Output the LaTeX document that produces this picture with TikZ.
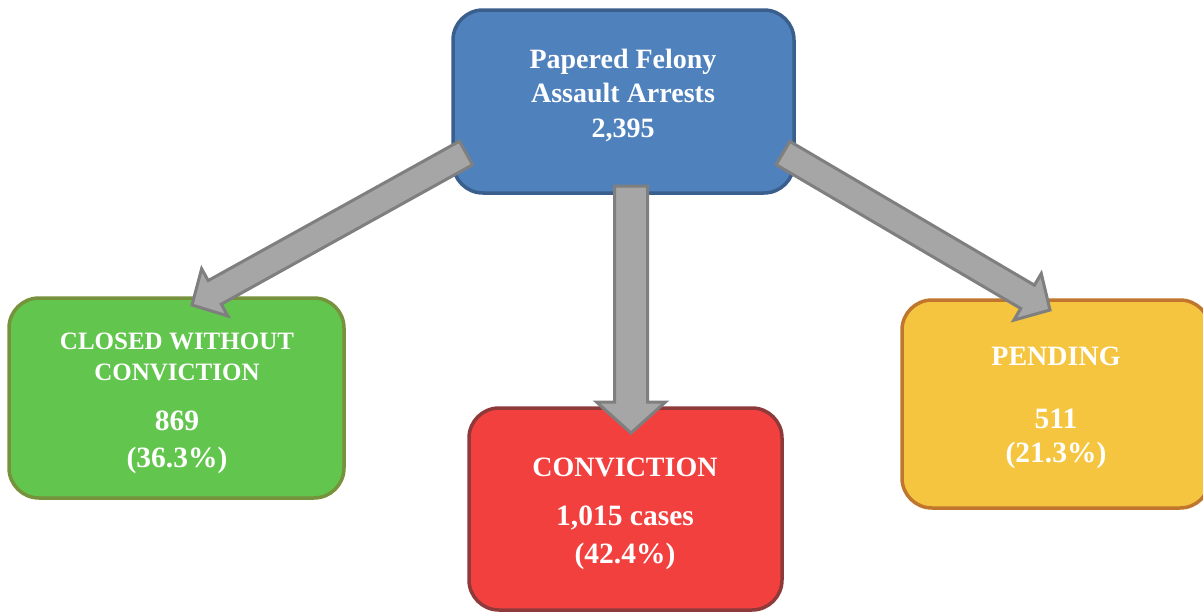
\documentclass[tikz,border=0pt]{standalone}
\usepackage{fontspec}
\setmainfont{Liberation Serif}
\usetikzlibrary{calc}
\definecolor{bluefill}{HTML}{4F81BD}
\definecolor{blueline}{HTML}{3A5F8C}
\definecolor{greenfill}{HTML}{62C54E}
\definecolor{greenline}{HTML}{76923C}
\definecolor{redfill}{HTML}{F2403F}
\definecolor{redline}{HTML}{8E3A3A}
\definecolor{orfill}{HTML}{F5C540}
\definecolor{orline}{HTML}{C0762E}
\definecolor{arrfill}{HTML}{A6A6A6}
\definecolor{arrline}{HTML}{7F7F7F}
\tikzset{
  box/.style={draw, line width=3.5pt, rounded corners=30pt, inner sep=0pt},
  txt/.style={text=white, anchor=base, inner sep=0pt},
  fatarr/.style={fill=arrfill, draw=arrline, line width=3pt, line join=miter},
}
\newcommand\fatarrow[5]{%
  \coordinate (fb) at ($(#2)!#5!(#1)$);
  \filldraw[fatarr] ($(#1)!#3!90:(#2)$) -- ($(fb)!#3!90:(#2)$) -- ($(fb)!#4!90:(#2)$) -- (#2)
    -- ($(fb)!#4!-90:(#2)$) -- ($(fb)!#3!-90:(#2)$) -- ($(#1)!#3!-90:(#2)$) -- cycle;
}
\begin{document}
\begin{tikzpicture}[x=1pt,y=-1pt]
\useasboundingbox (0,0) rectangle (1203,613);
\clip (0,0) rectangle (1203,613);
% boxes
\node[box, draw=blueline, fill=bluefill, minimum width=341pt, minimum height=183pt] (top) at (623.5,101.5) {};
\node[box, draw=greenline, fill=greenfill, minimum width=335pt, minimum height=200pt] (closed) at (176.5,398) {};
\node[box, draw=redline, fill=redfill, minimum width=313pt, minimum height=202pt] (conv) at (625.5,509) {};
\node[box, draw=orline, fill=orfill, minimum width=308pt, minimum height=208pt] (pend) at (1056,404) {};
% texts
\tikzset{topfont/.style={font=\bfseries\fontsize{28}{28}\selectfont},
  capfont/.style={font=\bfseries\fontsize{28}{28}\selectfont},
  smallcap/.style={font=\bfseries\fontsize{25}{25}\selectfont},
  numfont/.style={font=\bfseries\fontsize{29.5}{29.5}\selectfont}}
\node[txt, topfont] (t1) at (623,68) {Papered Felony};
\node[txt, topfont] (t2) at (623,102) {Assault Arrests};
\node[txt, topfont] (t3) at (623,137) {2,395};
\node[txt, smallcap] (g1) at (177,349) {CLOSED WITHOUT};
\node[txt, smallcap] (g2) at (177,380) {CONVICTION};
\node[txt, numfont] (g3) at (177,430) {869};
\node[txt, numfont] (g4) at (177,467) {(36.3\%)};
\node[txt, capfont] (r1) at (625,476) {CONVICTION};
\node[txt, numfont] (r2) at (625,525) {1,015 cases};
\node[txt, numfont] (r3) at (625,563) {(42.4\%)};
\node[txt, capfont] (o1) at (1056,365) {PENDING};
\node[txt, numfont] (o2) at (1056,428) {511};
\node[txt, numfont] (o3) at (1056,462) {(21.3\%)};
% arrow ends
\coordinate (sL) at (466,153);
\coordinate (tL) at (192,305);
\coordinate (sC) at (631,186);
\coordinate (tC) at (631,433);
\coordinate (sR) at (783,153);
\coordinate (tR) at (1050,310);
% arrows
\fatarrow{sL}{tL}{13.5pt}{27pt}{26pt}
\fatarrow{sC}{tC}{16.5pt}{34.5pt}{31pt}
\fatarrow{sR}{tR}{13.5pt}{27pt}{26pt}
\end{tikzpicture}
\end{document}
